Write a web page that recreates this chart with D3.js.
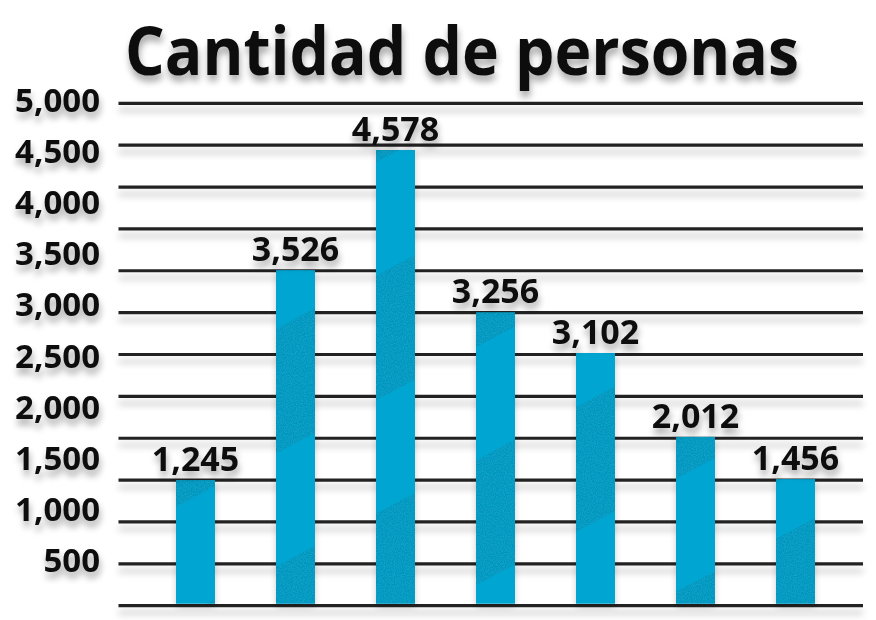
<!DOCTYPE html>
<html><head><meta charset="utf-8">
<script src="https://cdn.jsdelivr.net/npm/d3@7"></script>
<style>body{margin:0;background:#fff}svg{display:block}</style>
</head><body><svg id="c" width="876" height="620"></svg>
<script>
// ---- data ----
const title = "Cantidad de personas";
const categories = ["1", "2", "3", "4", "5", "6", "7"];
const valueLabels = [1245, 3526, 4578, 3256, 3102, 2012, 1456];      // printed above bars
const barLevels   = [1250, 3340, 4535, 2920, 2515, 1680, 1260];      // drawn bar heights (axis units)
const tickLabels  = [500, 1000, 1500, 2000, 2500, 3000, 3500, 4000, 4500, 5000];
const gridSteps = 12;

const svg = d3.select("#c");
const W = 876, H = 620;
const fmt = d3.format(",");
const FONT = "'Open Sans', 'Noto Sans', sans-serif";

const defs = svg.append("defs");
// text shadow
const ts = defs.append("filter").attr("id", "tshadow").attr("x", "-20%").attr("y", "-30%").attr("width", "140%").attr("height", "180%");
ts.append("feGaussianBlur").attr("in", "SourceAlpha").attr("stdDeviation", 3.5).attr("result", "b");
ts.append("feOffset").attr("in", "b").attr("dx", 1).attr("dy", 6).attr("result", "o");
ts.append("feComponentTransfer").attr("in", "o").attr("result", "o2")
  .append("feFuncA").attr("type", "linear").attr("slope", 0.35);
const tm = ts.append("feMerge");
tm.append("feMergeNode").attr("in", "o2");
tm.append("feMergeNode").attr("in", "SourceGraphic");
// line shadow (user space region since lines have zero-height bbox)
const ls = defs.append("filter").attr("id", "lshadow").attr("filterUnits", "userSpaceOnUse")
  .attr("x", 0).attr("y", 0).attr("width", W).attr("height", H);
ls.append("feGaussianBlur").attr("in", "SourceAlpha").attr("stdDeviation", 3.5).attr("result", "b");
ls.append("feOffset").attr("in", "b").attr("dy", 7).attr("result", "o");
ls.append("feComponentTransfer").attr("in", "o").attr("result", "o2")
  .append("feFuncA").attr("type", "linear").attr("slope", 0.25);
const lm = ls.append("feMerge");
lm.append("feMergeNode").attr("in", "o2");
lm.append("feMergeNode").attr("in", "SourceGraphic");
// bar shadow
const bs = defs.append("filter").attr("id", "bshadow").attr("x", "-40%").attr("y", "-10%").attr("width", "180%").attr("height", "120%");
bs.append("feGaussianBlur").attr("in", "SourceAlpha").attr("stdDeviation", 3).attr("result", "b");
bs.append("feOffset").attr("in", "b").attr("dx", 0).attr("dy", 3).attr("result", "o");
bs.append("feComponentTransfer").attr("in", "o").attr("result", "o2")
  .append("feFuncA").attr("type", "linear").attr("slope", 0.2);
const bm = bs.append("feMerge");
bm.append("feMergeNode").attr("in", "o2");
bm.append("feMergeNode").attr("in", "SourceGraphic");
// grain texture
const gr = defs.append("filter").attr("id", "grain").attr("x", 0).attr("y", 0).attr("width", "100%").attr("height", "100%");
gr.append("feTurbulence").attr("type", "fractalNoise").attr("baseFrequency", 0.9).attr("numOctaves", 2).attr("seed", 3).attr("result", "n");
gr.append("feColorMatrix").attr("in", "n").attr("type", "matrix")
  .attr("values", "0 0 0 0 0.02  0 0 0 0 0.50  0 0 0 0 0.66  0 0 0 1.6 -0.55").attr("result", "nc");
gr.append("feComposite").attr("in", "nc").attr("in2", "SourceGraphic").attr("operator", "in").attr("result", "g");
const gm = gr.append("feMerge");
gm.append("feMergeNode").attr("in", "SourceGraphic");
gm.append("feMergeNode").attr("in", "g");
// swoosh pattern
const pat = defs.append("pattern").attr("id", "swoosh").attr("patternUnits", "userSpaceOnUse")
  .attr("width", 140).attr("height", 210).attr("patternTransform", "rotate(-28)");
pat.append("rect").attr("width", 140).attr("height", 110).attr("fill", "#0a86ae").attr("opacity", 0.5);

// ---- scales ----
const x = d3.scaleBand().domain(categories).range([145.5, 845.5]).paddingInner(0.61).paddingOuter(0.305);
const y = d3.scaleLinear().domain([0, 5000]).range([605.7, 103.3]);
const yLab = d3.scaleLinear().domain([0, 5000]).range([612, 100]);
const gridVals = d3.range(gridSteps + 1).map(i => y.domain()[1] * i / gridSteps);

// ---- title ----
const t = svg.append("text").text(title)
  .attr("x", 462).attr("y", 75).attr("text-anchor", "middle")
  .attr("font-family", FONT).attr("font-weight", 700).attr("font-size", 66)
  .attr("fill", "#111").attr("filter", "url(#tshadow)");
t.attr("textLength", 674).attr("lengthAdjust", "spacingAndGlyphs");

// ---- gridlines ----
svg.append("g").attr("filter", "url(#lshadow)").selectAll("line").data(gridVals).join("line")
  .attr("x1", 118.5).attr("x2", 863)
  .attr("y1", d => y(d)).attr("y2", d => y(d))
  .attr("stroke", "#222").attr("stroke-width", 3.2);

// ---- y tick labels ----
svg.append("g").selectAll("text").data(tickLabels).join("text")
  .attr("x", 100).attr("y", d => yLab(d) + 11.5)
  .attr("text-anchor", "end")
  .attr("font-family", FONT).attr("font-weight", 700).attr("font-size", 33)
  .attr("fill", "#111").attr("filter", "url(#tshadow)")
  .text(d => fmt(d));

// ---- bars ----
const data = categories.map((c, i) => ({ c, v: barLevels[i], label: valueLabels[i] }));
const bars = svg.append("g");
bars.selectAll("rect.bar").data(data).join("rect").attr("class", "bar")
  .attr("x", d => x(d.c)).attr("width", x.bandwidth())
  .attr("y", d => y(d.v)).attr("height", d => y(0) - y(d.v) - 2)
  .attr("fill", "#00a5d1").attr("filter", "url(#bshadow)");
data.forEach((d, i) => {
  defs.append("clipPath").attr("id", "bc" + i).append("rect")
    .attr("x", x(d.c)).attr("width", x.bandwidth())
    .attr("y", y(d.v)).attr("height", y(0) - y(d.v) - 2);
});
bars.selectAll("rect.tex").data(data).join("rect").attr("class", "tex")
  .attr("clip-path", (d, i) => `url(#bc${i})`)
  .attr("x", d => x(d.c)).attr("width", x.bandwidth())
  .attr("y", d => y(d.v)).attr("height", d => y(0) - y(d.v) - 2)
  .attr("fill", "url(#swoosh)").attr("filter", "url(#grain)");

// ---- value labels ----
svg.append("g").selectAll("text").data(data).join("text")
  .attr("x", d => x(d.c) + x.bandwidth() / 2)
  .attr("y", d => y(d.v) - 9)
  .attr("text-anchor", "middle")
  .attr("font-family", FONT).attr("font-weight", 700).attr("font-size", 34)
  .attr("fill", "#111").attr("filter", "url(#tshadow)")
  .text(d => fmt(d.label));
</script>
</body></html>
